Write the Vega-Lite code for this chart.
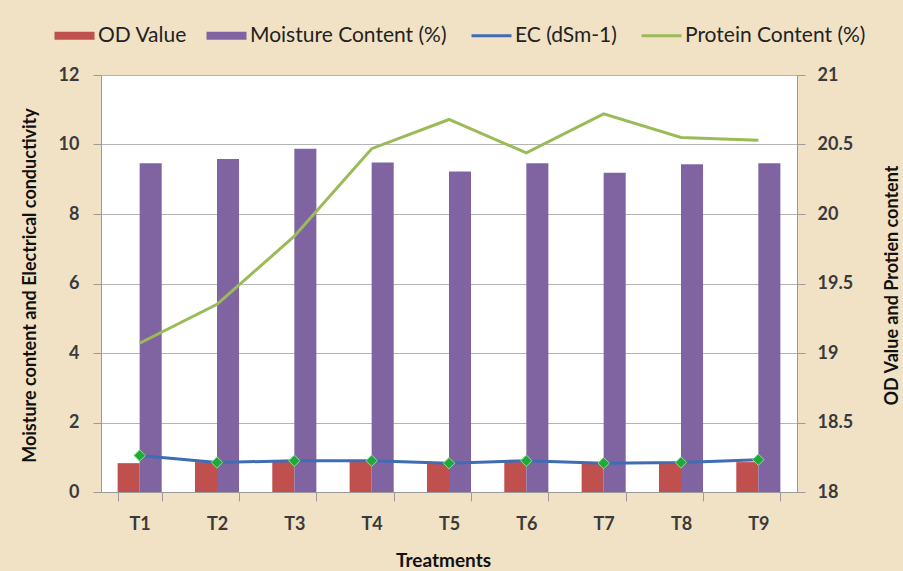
{
  "$schema": "https://vega.github.io/schema/vega-lite/v6.json",
  "width": 696,
  "height": 417,
  "autosize": "none",
  "padding": {"left": 101, "top": 75, "right": 106, "bottom": 79},
  "background": "#F2E2C5",
  "config": {
    "font": "Lato",
    "view": {"fill": "white", "stroke": null},
    "axis": {
      "labelFont": "Lato", "labelFontSize": 18, "labelFontWeight": "bold", "labelColor": "#3a3a3a",
      "titleFont": "Lato", "titleFontSize": 17, "titleFontWeight": "bold", "titleColor": "#111",
      "domainColor": "#9a9a9a", "tickColor": "#9a9a9a", "gridColor": "#b4b4b4"
    }
  },
  "data": {
    "values": [
      {"treatment": "T1", "series": "OD Value", "value": 0.83},
      {"treatment": "T2", "series": "OD Value", "value": 0.86},
      {"treatment": "T3", "series": "OD Value", "value": 0.87},
      {"treatment": "T4", "series": "OD Value", "value": 0.87},
      {"treatment": "T5", "series": "OD Value", "value": 0.83},
      {"treatment": "T6", "series": "OD Value", "value": 0.87},
      {"treatment": "T7", "series": "OD Value", "value": 0.85},
      {"treatment": "T8", "series": "OD Value", "value": 0.85},
      {"treatment": "T9", "series": "OD Value", "value": 0.86},
      {"treatment": "T1", "series": "Moisture Content (%)", "value": 9.46},
      {"treatment": "T2", "series": "Moisture Content (%)", "value": 9.58},
      {"treatment": "T3", "series": "Moisture Content (%)", "value": 9.88},
      {"treatment": "T4", "series": "Moisture Content (%)", "value": 9.48},
      {"treatment": "T5", "series": "Moisture Content (%)", "value": 9.22},
      {"treatment": "T6", "series": "Moisture Content (%)", "value": 9.46},
      {"treatment": "T7", "series": "Moisture Content (%)", "value": 9.19},
      {"treatment": "T8", "series": "Moisture Content (%)", "value": 9.43},
      {"treatment": "T9", "series": "Moisture Content (%)", "value": 9.46},
      {"treatment": "T1", "series": "EC (dSm-1)", "value": 1.05},
      {"treatment": "T2", "series": "EC (dSm-1)", "value": 0.85},
      {"treatment": "T3", "series": "EC (dSm-1)", "value": 0.9},
      {"treatment": "T4", "series": "EC (dSm-1)", "value": 0.9},
      {"treatment": "T5", "series": "EC (dSm-1)", "value": 0.83},
      {"treatment": "T6", "series": "EC (dSm-1)", "value": 0.9},
      {"treatment": "T7", "series": "EC (dSm-1)", "value": 0.83},
      {"treatment": "T8", "series": "EC (dSm-1)", "value": 0.85},
      {"treatment": "T9", "series": "EC (dSm-1)", "value": 0.93},
      {"treatment": "T1", "series": "Protein Content (%)", "value": 19.07},
      {"treatment": "T2", "series": "Protein Content (%)", "value": 19.35},
      {"treatment": "T3", "series": "Protein Content (%)", "value": 19.84},
      {"treatment": "T4", "series": "Protein Content (%)", "value": 20.47},
      {"treatment": "T5", "series": "Protein Content (%)", "value": 20.68},
      {"treatment": "T6", "series": "Protein Content (%)", "value": 20.44},
      {"treatment": "T7", "series": "Protein Content (%)", "value": 20.72},
      {"treatment": "T8", "series": "Protein Content (%)", "value": 20.55},
      {"treatment": "T9", "series": "Protein Content (%)", "value": 20.53}
    ]
  },
  "encoding": {
    "x": {
      "field": "treatment", "type": "nominal", "sort": null,
      "scale": {"paddingInner": 0.43, "paddingOuter": 0.215},
      "axis": {
        "title": "Treatments", "labelAngle": 0, "tickBand": "extent", "tickSize": 9,
        "labelPadding": 14, "labelFontSize": 18,
        "titleX": 342, "titleY": 68, "titleBaseline": "middle", "titleFontSize": 19
      }
    },
    "color": {
      "field": "series", "type": "nominal",
      "scale": {
        "domain": ["OD Value", "Moisture Content (%)", "EC (dSm-1)", "Protein Content (%)"],
        "range": ["#C0504D", "#8064A2", "#3F6DB3", "#9BBB59"]
      },
      "legend": {
        "title": null, "orient": "none", "direction": "horizontal",
        "legendX": -37, "legendY": -50,
        "labelFont": "Lato", "labelFontSize": 21, "labelColor": "#222", "labelFontWeight": "normal",
        "labelLimit": 400,
        "labelOffset": 13, "columnPadding": 18, "symbolSize": 1600,
        "encode": {
          "symbols": {
            "update": {
              "shape": {"signal": "datum.value == 'OD Value' || datum.value == 'Moisture Content (%)' ? 'M-1,-0.2H1V0.2H-1Z' : 'stroke'"},
              "fill": {"signal": "datum.value == 'OD Value' || datum.value == 'Moisture Content (%)' ? scale('color', datum.value) : 'transparent'"},
              "stroke": {"signal": "scale('color', datum.value)"},
              "strokeWidth": {"signal": "datum.value == 'OD Value' || datum.value == 'Moisture Content (%)' ? 0 : 3"},
              "opacity": {"value": 1}
            }
          }
        }
      }
    }
  },
  "layer": [
    {
      "layer": [
        {
          "transform": [{"filter": "datum.series == 'OD Value' || datum.series == 'Moisture Content (%)'"}],
          "mark": {"type": "bar", "opacity": 1},
          "encoding": {
            "xOffset": {"field": "series", "type": "nominal", "sort": ["OD Value", "Moisture Content (%)"]},
            "y": {
              "field": "value", "type": "quantitative",
              "scale": {"domain": [0, 12]},
              "axis": {
                "title": "Moisture content and Electrical conductivity",
                "values": [0, 2, 4, 6, 8, 10, 12], "tickSize": 8, "labelPadding": 14,
                "grid": true, "titleAngle": -90, "titleX": -71, "titleY": 210,
                "titleBaseline": "middle", "titleAlign": "center", "titleFontSize": 18
              }
            }
          }
        },
        {
          "transform": [{"filter": "datum.series == 'EC (dSm-1)'"}],
          "mark": {"type": "line", "strokeWidth": 3},
          "encoding": {"y": {"field": "value", "type": "quantitative"}}
        },
        {
          "transform": [{"filter": "datum.series == 'EC (dSm-1)'"}],
          "mark": {"type": "point", "shape": "diamond", "filled": true, "size": 130, "fill": "#1FA83C", "stroke": "#8EE08A", "strokeWidth": 1, "opacity": 1},
          "encoding": {"y": {"field": "value", "type": "quantitative"}, "color": {"value": "#1FA83C"}}
        }
      ]
    },
    {
      "transform": [{"filter": "datum.series == 'Protein Content (%)'"}],
      "mark": {"type": "line", "strokeWidth": 3},
      "encoding": {
        "y": {
          "field": "value", "type": "quantitative",
          "scale": {"domain": [18, 21], "zero": false},
          "axis": {
            "orient": "right", "title": "OD Value and Protien content",
            "values": [18, 18.5, 19, 19.5, 20, 20.5, 21], "format": "~g", "tickSize": 8, "labelPadding": 12,
            "grid": false, "titleAngle": -90, "titleX": 95, "titleY": 210,
            "titleBaseline": "middle", "titleAlign": "center", "titleFontSize": 18
          }
        }
      }
    }
  ],
  "resolve": {"scale": {"y": "independent"}}
}
